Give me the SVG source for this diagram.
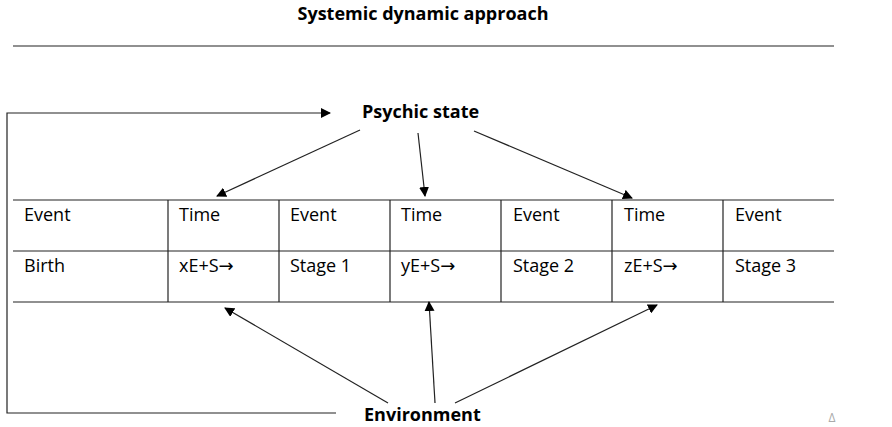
<svg xmlns="http://www.w3.org/2000/svg" width="892" height="427" viewBox="0 0 892 427">
<style>
text{font-family:"Open Sans","Liberation Sans",sans-serif;font-size:18px;fill:#000}
.b{font-weight:bold}
.ar{font-family:"DejaVu Sans",sans-serif}
.l{stroke:#222;stroke-width:1.2;fill:none}
.a{stroke:#222;stroke-width:1.2;fill:none;marker-end:url(#ah)}
</style>
<defs><marker id="ah" markerWidth="10" markerHeight="10" refX="9" refY="5" orient="auto" markerUnits="userSpaceOnUse"><path d="M0,0 L10,5 L0,10 z" fill="#000"/></marker></defs>
<rect width="892" height="427" fill="#fff"/>
<text class="b" x="423" y="20" text-anchor="middle">Systemic dynamic approach</text>
<line class="l" x1="13" y1="46" x2="834" y2="46"/>
<g id="table">
<line class="l" x1="13" y1="200" x2="834" y2="200"/>
<line class="l" x1="13" y1="251" x2="834" y2="251"/>
<line class="l" x1="13" y1="302" x2="834" y2="302"/>
<line class="l" x1="168" y1="200" x2="168" y2="302"/>
<line class="l" x1="279" y1="200" x2="279" y2="302"/>
<line class="l" x1="390" y1="200" x2="390" y2="302"/>
<line class="l" x1="501" y1="200" x2="501" y2="302"/>
<line class="l" x1="612" y1="200" x2="612" y2="302"/>
<line class="l" x1="723" y1="200" x2="723" y2="302"/>
<text x="24" y="221">Event</text><text x="179" y="221">Time</text><text x="290" y="221">Event</text><text x="401" y="221">Time</text><text x="513" y="221">Event</text><text x="624" y="221">Time</text><text x="735" y="221">Event</text>
<text x="24" y="272">Birth</text><text x="179" y="272">xE+S<tspan class="ar">→</tspan></text><text x="290" y="272">Stage 1</text><text x="401" y="272">yE+S<tspan class="ar">→</tspan></text><text x="513" y="272">Stage 2</text><text x="624" y="272">zE+S<tspan class="ar">→</tspan></text><text x="735" y="272">Stage 3</text>
</g>
<g id="psychic"><text class="b" x="362" y="118">Psychic state</text></g>
<g id="environment"><text class="b" x="364" y="421">Environment</text></g>
<g id="connectors">
<path class="a" d="M336,413 H7 V113 H330"/>
<line class="a" x1="360" y1="130" x2="217" y2="196"/>
<line class="a" x1="418" y1="133" x2="425" y2="196"/>
<line class="a" x1="474" y1="131" x2="632" y2="198"/>
<line class="a" x1="388" y1="403" x2="225" y2="308"/>
<line class="a" x1="435" y1="403" x2="429" y2="302"/>
<line class="a" x1="455" y1="403" x2="657" y2="305"/>
</g>
<text x="832" y="422" style="font-size:12px;fill:#aaa" text-anchor="middle">Δ</text>
</svg>
